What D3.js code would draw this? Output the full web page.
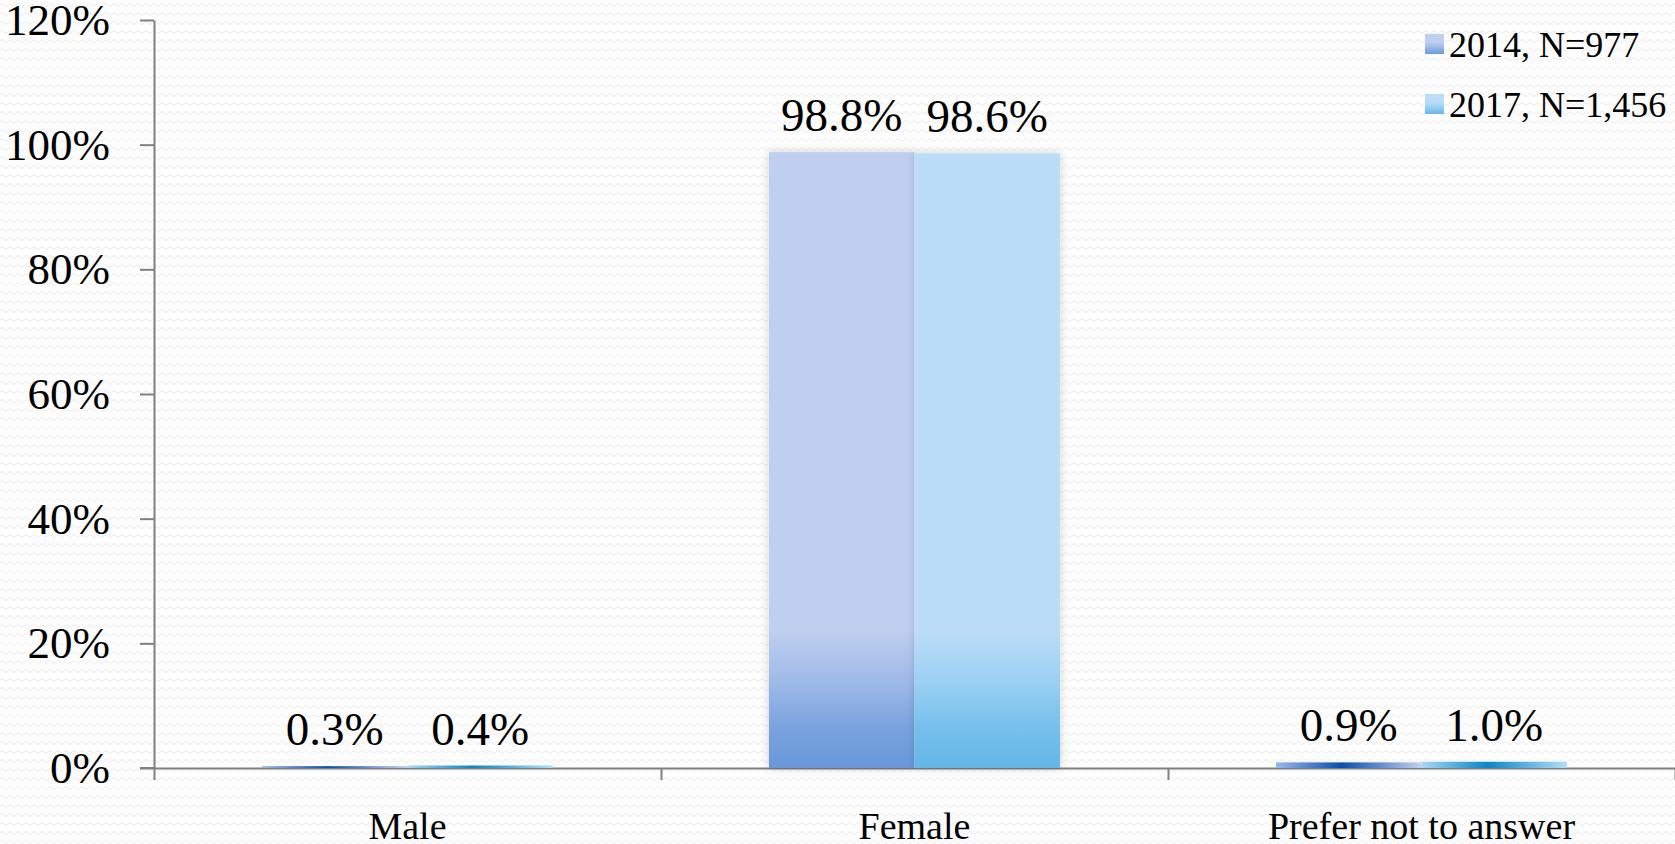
<!DOCTYPE html>
<html>
<head>
<meta charset="utf-8">
<script src="https://d3js.org/d3.v7.min.js"></script>
<style>
    body { margin: 0; background: #fdfdfd; }
    svg { display: block; }
    text { font-family: "Liberation Serif", "DejaVu Serif", serif; fill: #000; }
    .axis path, .axis line { stroke: #808080; stroke-width: 2; }
</style>
</head>
<body>
<div id="chart"></div>
<script>

// data
var categories = ["Male", "Female", "Prefer not to answer"];
var seriesNames = ["2014, N=977", "2017, N=1,456"];
var values2014 = [0.3, 98.8, 0.9];
var values2017 = [0.4, 98.6, 1.0];
var yTicks = [0, 20, 40, 60, 80, 100, 120];

var seriesValues = [values2014, values2017];

var totalWidth = 1675, totalHeight = 844;
var margin = {top: 20, right: 0, bottom: 76, left: 154};
var width = totalWidth - margin.left - margin.right,
    height = totalHeight - margin.top - margin.bottom;

var svg = d3.select("#chart").append("svg")
    .attr("width", totalWidth)
    .attr("height", totalHeight);

var defs = svg.append("defs");

// faint wavy background texture
var pat = defs.append("pattern")
    .attr("id", "waves")
    .attr("patternUnits", "userSpaceOnUse")
    .attr("width", 8)
    .attr("height", 9);
pat.append("rect").attr("width", 8).attr("height", 9).attr("fill", "#fdfdfd");
pat.append("path")
    .attr("d", "M0,5 Q2,2 4,5 T8,5")
    .attr("fill", "none")
    .attr("stroke", "#eeeeee")
    .attr("stroke-width", 1);

svg.append("rect")
    .attr("width", totalWidth)
    .attr("height", totalHeight)
    .attr("fill", "url(#waves)");

var g = svg.append("g")
    .attr("transform", "translate(" + margin.left + "," + margin.top + ")");

var y = d3.scaleLinear()
    .domain([0, 120])
    .range([height, 0]);

var x0 = d3.scaleBand()
    .domain(categories)
    .range([0, width])
    .paddingInner(0.426)
    .paddingOuter(0.213);

var x1 = d3.scaleBand()
    .domain(seriesNames)
    .range([0, x0.bandwidth()]);

// boundaries between categories for the x tick marks
var xEdges = d3.scaleLinear()
    .domain([0, categories.length])
    .range([0, width]);

// gradients: tall bars fade upward, thin bars get the horizontal sheen
var tallColors = [
    ["#6898da", "#7aa3df", "#a0bbe9", "#bfcff0"],
    ["#64b6e8", "#76c0ec", "#9cd1f3", "#bbddf7"]
];
var thinColors = [
    ["#9bb8ea", "#0a4fb0", "#c0d0f0"],
    ["#a9d6f5", "#0a86c8", "#b3ddf8"]
];

seriesNames.forEach(function (s, i) {
    var tg = defs.append("linearGradient")
        .attr("id", "tall" + i)
        .attr("gradientUnits", "userSpaceOnUse")
        .attr("x1", 0).attr("x2", 0)
        .attr("y1", y(0)).attr("y2", y(22));
    [0, 0.3, 0.65, 1].forEach(function (o, k) {
        tg.append("stop").attr("offset", o).attr("stop-color", tallColors[i][k]);
    });

    var hg = defs.append("linearGradient")
        .attr("id", "thin" + i)
        .attr("x1", 0).attr("x2", 1)
        .attr("y1", 0).attr("y2", 0);
    [0, 0.45, 1].forEach(function (o, k) {
        hg.append("stop").attr("offset", o).attr("stop-color", thinColors[i][k]);
    });

    var lg = defs.append("linearGradient")
        .attr("id", "leg" + i)
        .attr("x1", 0).attr("x2", 0)
        .attr("y1", 1).attr("y2", 0);
    lg.append("stop").attr("offset", 0).attr("stop-color", tallColors[i][0]);
    lg.append("stop").attr("offset", 0.35).attr("stop-color", tallColors[i][2]);
    lg.append("stop").attr("offset", 0.6).attr("stop-color", tallColors[i][3]);
    lg.append("stop").attr("offset", 1).attr("stop-color", tallColors[i][3]);
});

var shadow = defs.append("filter")
    .attr("id", "shadow")
    .attr("x", "-20%").attr("y", "-5%")
    .attr("width", "140%").attr("height", "110%");
shadow.append("feDropShadow")
    .attr("dx", 0).attr("dy", 0)
    .attr("stdDeviation", 4)
    .attr("flood-color", "#000")
    .attr("flood-opacity", 0.18);

// axes
var yAxis = d3.axisLeft(y)
    .tickValues(yTicks)
    .tickSize(14)
    .tickSizeOuter(0)
    .tickPadding(30)
    .tickFormat(function (d) { return d + "%"; });

var gy = g.append("g")
    .attr("class", "axis y-axis")
    .call(yAxis);
gy.selectAll("text")
    .style("font-size", "45px")
    .attr("dy", "0.32em");

var xAxis = d3.axisBottom(xEdges)
    .tickValues(d3.range(categories.length + 1))
    .tickSize(12)
    .tickSizeOuter(0)
    .tickFormat("");

g.append("g")
    .attr("class", "axis x-axis")
    .attr("transform", "translate(0," + height + ")")
    .call(xAxis);

// extend the x axis line left to meet the 0% tick
g.append("line")
    .attr("x1", -14).attr("x2", 0)
    .attr("y1", height).attr("y2", height)
    .attr("stroke", "#808080")
    .attr("stroke-width", 2);

// bars
var rows = categories.map(function (c, ci) {
    return {
        cat: c,
        vals: seriesNames.map(function (s, si) {
            return {series: s, si: si, value: seriesValues[si][ci]};
        })
    };
});

var groups = g.selectAll(".cat")
    .data(rows)
    .enter()
    .append("g")
    .attr("class", "cat")
    .attr("transform", function (d) { return "translate(" + x0(d.cat) + ",0)"; });

groups.selectAll("rect")
    .data(function (d) { return d.vals; })
    .enter()
    .append("rect")
    .attr("x", function (d) { return x1(d.series); })
    .attr("width", x1.bandwidth())
    .attr("y", function (d) { return y(d.value); })
    .attr("height", function (d) { return height - y(d.value); })
    .attr("filter", function (d) { return (height - y(d.value)) > 20 ? "url(#shadow)" : null; })
    .attr("fill", function (d) {
        return (height - y(d.value)) > 20 ? "url(#tall" + d.si + ")" : "url(#thin" + d.si + ")";
    });

groups.selectAll(".val")
    .data(function (d) { return d.vals; })
    .enter()
    .append("text")
    .attr("class", "val")
    .attr("x", function (d) { return x1(d.series) + x1.bandwidth() / 2; })
    .attr("y", function (d) { return y(d.value) - 21; })
    .attr("text-anchor", "middle")
    .style("font-size", "47px")
    .text(function (d) { return d3.format(".1f")(d.value) + "%"; });

// category labels
g.selectAll(".catlabel")
    .data(categories)
    .enter()
    .append("text")
    .attr("class", "catlabel")
    .attr("x", function (d) { return x0(d) + x0.bandwidth() / 2; })
    .attr("y", height + 71)
    .attr("text-anchor", "middle")
    .style("font-size", "38px")
    .text(function (d) { return d; });

// legend
var legend = svg.append("g")
    .attr("transform", "translate(1425,34)");

legend.selectAll("rect")
    .data(seriesNames)
    .enter()
    .append("rect")
    .attr("x", 0)
    .attr("y", function (d, i) { return 60 * i; })
    .attr("width", 19)
    .attr("height", 20)
    .attr("fill", function (d, i) { return "url(#leg" + i + ")"; });

legend.selectAll("text")
    .data(seriesNames)
    .enter()
    .append("text")
    .attr("x", 24)
    .attr("y", function (d, i) { return 60 * i + 23; })
    .style("font-size", "36px")
    .text(function (d) { return d; });

</script>
</body>
</html>
